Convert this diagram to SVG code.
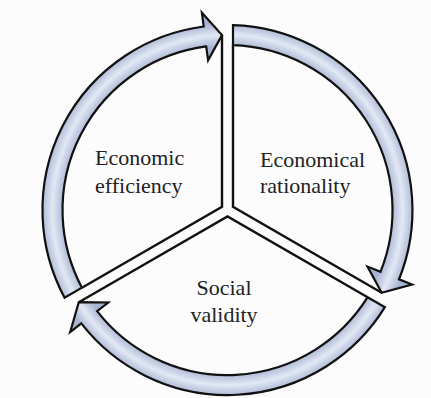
<svg xmlns="http://www.w3.org/2000/svg" width="431" height="398" viewBox="0 0 431 398">
  <defs>
    <radialGradient id="band" gradientUnits="userSpaceOnUse" cx="227.5" cy="210" r="199">
      <stop offset="0.82" stop-color="#a7b3d2"/>
      <stop offset="0.88" stop-color="#e2e8f4"/>
      <stop offset="0.94" stop-color="#a7b3d2"/>
    </radialGradient>
    <style>
      .band { fill: url(#band); stroke: #111; stroke-width: 2.2; stroke-linejoin: miter; }
      .div { fill: none; stroke: #111; stroke-width: 2.4; stroke-linejoin: miter; }
      .lbl { font-size: 22px; fill: #222; }
    </style>
  </defs>
  <rect width="431" height="398" fill="#fcfcfc"/>
  <g id="economic-efficiency">
    <path class="band" d="M64.6,297.7 A185,185 0 0 1 203.7,26.5 L201.9,12.7 L222,35.1 L208.1,60.3 L206.2,46.4 A165,165 0 0 0 81.95,287.7 Z"/>
    <path class="div" d="M222,35.1 L222,206.8 L81.95,287.7"/>
    <text class="lbl" font-family="'Liberation Serif', 'DejaVu Serif', serif" x="95" y="165">Economic</text>
    <text class="lbl" font-family="'Liberation Serif', 'DejaVu Serif', serif" x="95" y="193">efficiency</text>
  </g>
  <g id="economical-rationality">
    <path class="band" d="M233,25.1 A185,185 0 0 1 399.0,279.3 L412.0,284.5 L381.7,292.7 L367.5,266.6 L380.5,271.8 A165,165 0 0 0 233,45.1 Z"/>
    <path class="div" d="M233,45.1 L233,206.8 L381.7,292.7"/>
    <text class="lbl" font-family="'Liberation Serif', 'DejaVu Serif', serif" x="260" y="167">Economical</text>
    <text class="lbl" font-family="'Liberation Serif', 'DejaVu Serif', serif" x="260" y="193">rationality</text>
  </g>
  <g id="social-validity">
    <path class="band" d="M384.9,307.2 A185,185 0 0 1 81.3,323.4 L70.2,332.0 L78.8,302.2 L108.2,302.5 L97.1,311.1 A165,165 0 0 0 367.6,297.2 Z"/>
    <path class="div" d="M367.6,297.2 L227.5,216.4 L78.8,302.2"/>
    <text class="lbl" font-family="'Liberation Serif', 'DejaVu Serif', serif" x="224" y="295" text-anchor="middle">Social</text>
    <text class="lbl" font-family="'Liberation Serif', 'DejaVu Serif', serif" x="224" y="322" text-anchor="middle">validity</text>
  </g>
</svg>
